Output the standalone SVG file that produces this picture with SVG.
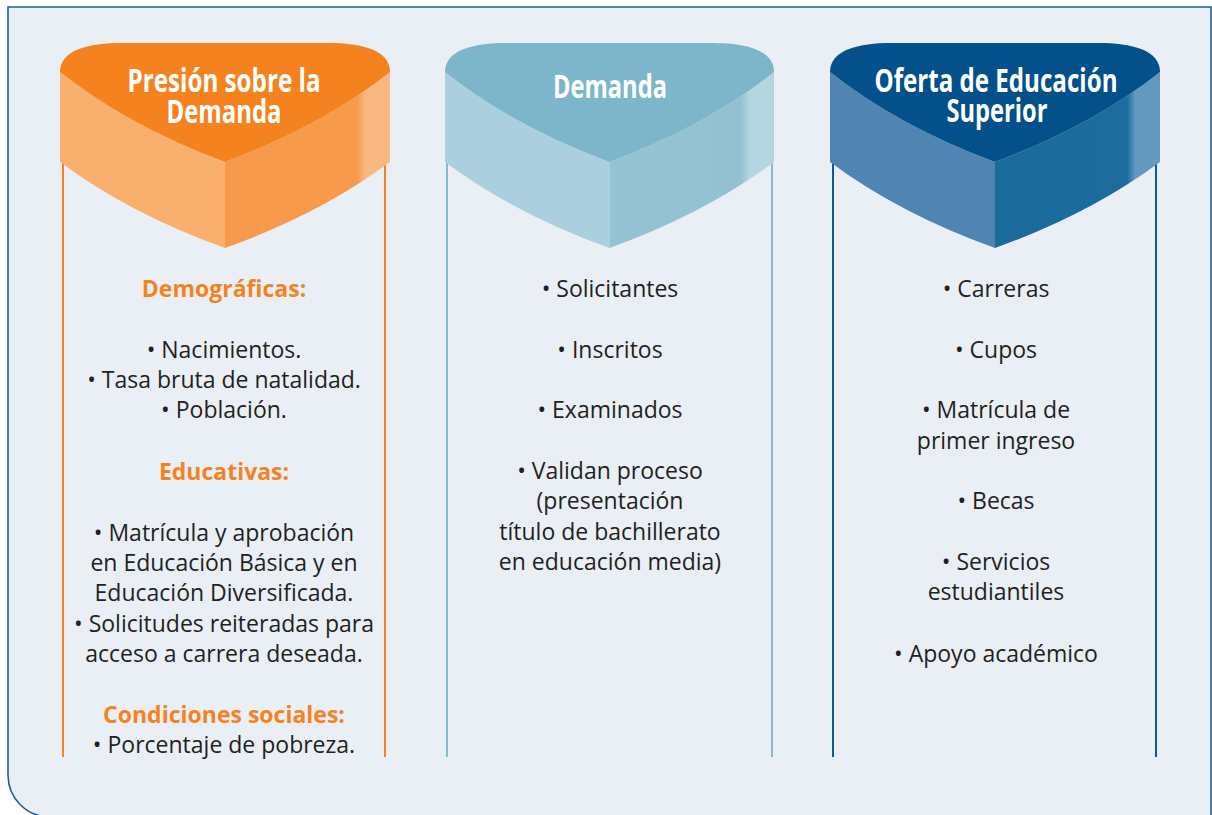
<svg xmlns="http://www.w3.org/2000/svg" width="1212" height="815" viewBox="0 0 1212 815">
<defs>
<style>
.body{font-family:"Open Sans","Liberation Sans",sans-serif;font-size:23px;fill:#231F20;text-anchor:middle}
.head{font-family:"Open Sans","Liberation Sans",sans-serif;font-size:23px;font-weight:700;fill:#F4831F;text-anchor:middle}
.title{font-family:"Liberation Sans Narrow","Open Sans","Liberation Sans",sans-serif;font-size:32px;font-weight:700;fill:#FFFFFF;text-anchor:middle}
</style>
<linearGradient id="gO" gradientUnits="userSpaceOnUse" x1="165" y1="0" x2="330" y2="0">
<stop offset="0" stop-color="#F7994A"/><stop offset="0.8" stop-color="#F79A4A"/><stop offset="0.85" stop-color="#F9B881"/><stop offset="1" stop-color="#F9B881"/>
</linearGradient>
<linearGradient id="gL" gradientUnits="userSpaceOnUse" x1="165" y1="0" x2="330" y2="0">
<stop offset="0" stop-color="#95C3D4"/><stop offset="0.8" stop-color="#93C1D2"/><stop offset="0.85" stop-color="#B5D5E0"/><stop offset="1" stop-color="#B5D5E0"/>
</linearGradient>
<linearGradient id="gD" gradientUnits="userSpaceOnUse" x1="165" y1="0" x2="330" y2="0">
<stop offset="0" stop-color="#1A6A9C"/><stop offset="0.8" stop-color="#1C6C9E"/><stop offset="0.85" stop-color="#6399BF"/><stop offset="1" stop-color="#6399BF"/>
</linearGradient>
<path id="topFace" d="M0,72 C0,50 28,43 62,43 L268,43 C302,43 330,50 330,72 Q262,126 165,162 Q68,126 0,72 Z"/>
<path id="leftFace" d="M0,72 Q68,126 165,162 L165,248 Q70,214 0,162 Z"/>
<path id="rightFace" d="M165,162 Q262,126 330,72 L330,162 Q260,214 165,248 Z"/>
</defs>

<path d="M8,7 H1211 V817 H50 A42,42 0 0 1 8,775 Z" fill="#EAEFF6" stroke="#1E5E98" stroke-width="1.6"/>

<g id="connectors" stroke-width="2" fill="none">
<line x1="63" y1="160" x2="63" y2="757" stroke="#F4831F"/>
<line x1="385" y1="160" x2="385" y2="757" stroke="#F4831F"/>
<line x1="447" y1="160" x2="447" y2="757" stroke="#86BBCF"/>
<line x1="772" y1="160" x2="772" y2="757" stroke="#86BBCF"/>
<line x1="833" y1="160" x2="833" y2="757" stroke="#0B5A93"/>
<line x1="1156" y1="160" x2="1156" y2="757" stroke="#0B5A93"/>
</g>

<g id="node-presion">
<g transform="translate(60,0)">
<use href="#leftFace" fill="#F9AF6E"/>
<use href="#rightFace" fill="url(#gO)"/>
<use href="#topFace" fill="#F4831F"/>
</g>
<text class="title" x="224" y="92" textLength="193" lengthAdjust="spacingAndGlyphs">Presión sobre la</text>
<text class="title" x="224" y="123" textLength="115" lengthAdjust="spacingAndGlyphs">Demanda</text>
<text class="head" x="224" y="297">Demográficas:</text>
<text class="body" x="224" y="358">• Nacimientos.</text>
<text class="body" x="224" y="388">• Tasa bruta de natalidad.</text>
<text class="body" x="224" y="418">• Población.</text>
<text class="head" x="224" y="480">Educativas:</text>
<text class="body" x="224" y="541">• Matrícula y aprobación</text>
<text class="body" x="224" y="571">en Educación Básica y en</text>
<text class="body" x="224" y="601">Educación Diversificada.</text>
<text class="body" x="224" y="632">• Solicitudes reiteradas para</text>
<text class="body" x="224" y="662">acceso a carrera deseada.</text>
<text class="head" x="224" y="723">Condiciones sociales:</text>
<text class="body" x="224" y="753">• Porcentaje de pobreza.</text>
</g>

<g id="node-demanda">
<g transform="translate(445,0) scale(0.997,1)">
<use href="#leftFace" fill="#ABCFDE"/>
<use href="#rightFace" fill="url(#gL)"/>
<use href="#topFace" fill="#7DB5CA"/>
</g>
<text class="title" x="610" y="98" textLength="114" lengthAdjust="spacingAndGlyphs">Demanda</text>
<text class="body" x="610" y="297">• Solicitantes</text>
<text class="body" x="610" y="358">• Inscritos</text>
<text class="body" x="610" y="418">• Examinados</text>
<text class="body" x="610" y="479">• Validan proceso</text>
<text class="body" x="610" y="509">(presentación</text>
<text class="body" x="610" y="540">título de bachillerato</text>
<text class="body" x="610" y="570">en educación media)</text>
</g>

<g id="node-oferta">
<g transform="translate(830,0)">
<use href="#leftFace" fill="#4F84B3"/>
<use href="#rightFace" fill="url(#gD)"/>
<use href="#topFace" fill="#03508A"/>
</g>
<text class="title" x="996" y="92" textLength="243" lengthAdjust="spacingAndGlyphs">Oferta de Educación</text>
<text class="title" x="997" y="122" textLength="101" lengthAdjust="spacingAndGlyphs">Superior</text>
<text class="body" x="996" y="297">• Carreras</text>
<text class="body" x="996" y="358">• Cupos</text>
<text class="body" x="996" y="418">• Matrícula de</text>
<text class="body" x="996" y="449">primer ingreso</text>
<text class="body" x="996" y="509">• Becas</text>
<text class="body" x="996" y="570">• Servicios</text>
<text class="body" x="996" y="600">estudiantiles</text>
<text class="body" x="996" y="662">• Apoyo académico</text>
</g>
</svg>
